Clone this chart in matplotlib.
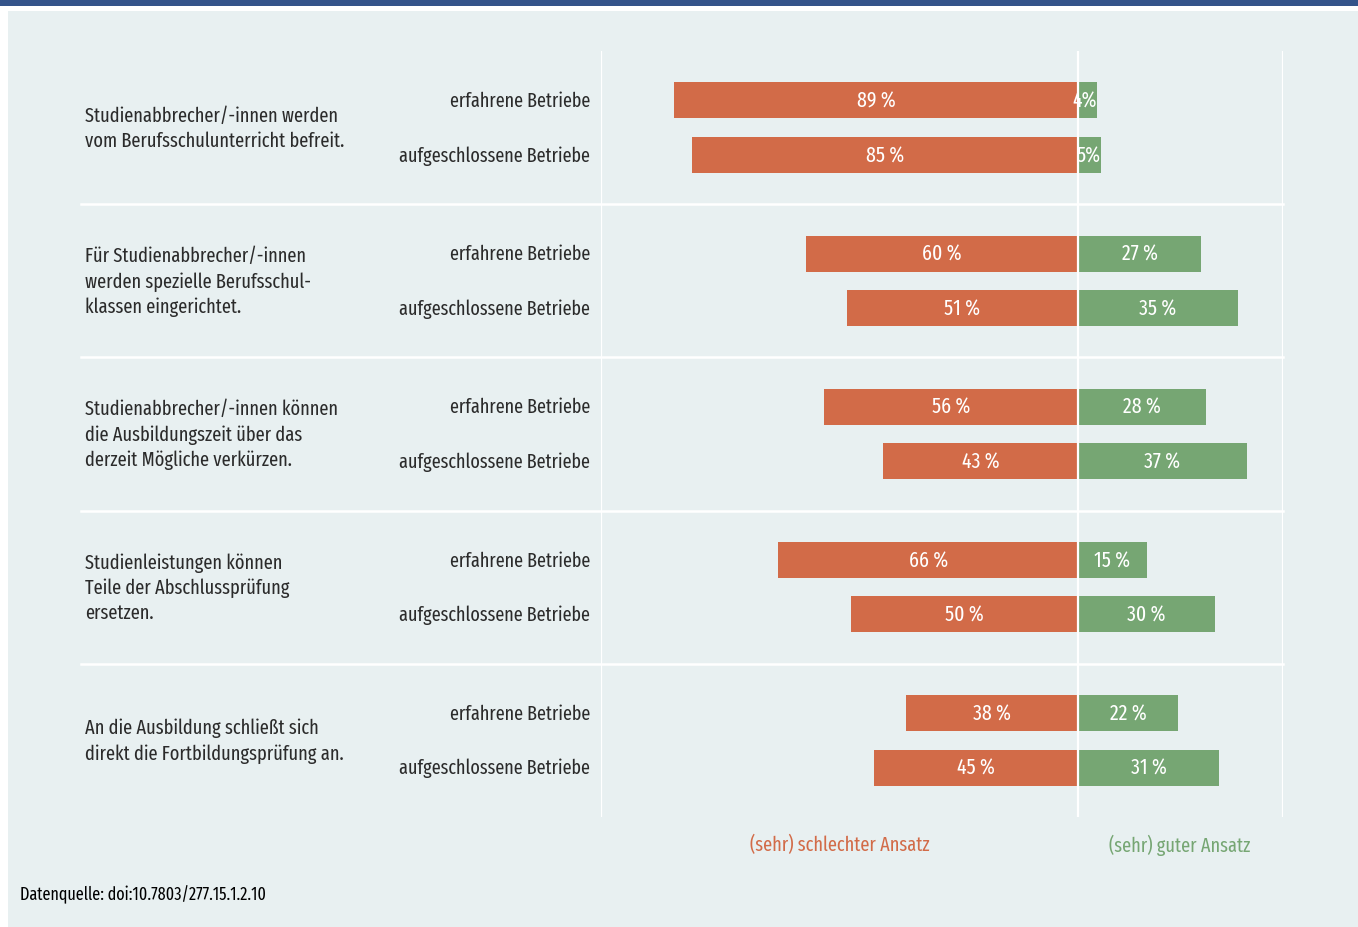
import numpy as np
import matplotlib.pyplot as plt
import matplotlib.transforms as mtransforms
from matplotlib.patches import Rectangle

# data
statements = [
    "Studienabbrecher/-innen werden\nvom Berufsschulunterricht befreit.",
    "Für Studienabbrecher/-innen\nwerden spezielle Berufsschul-\nklassen eingerichtet.",
    "Studienabbrecher/-innen können\ndie Ausbildungszeit über das\nderzeit Mögliche verkürzen.",
    "Studienleistungen können\nTeile der Abschlussprüfung\nersetzen.",
    "An die Ausbildung schließt sich\ndirekt die Fortbildungsprüfung an.",
]
groups = ["erfahrene Betriebe", "aufgeschlossene Betriebe"]
bad_erfahren = [89, 60, 56, 66, 38]
good_erfahren = [4, 27, 28, 15, 22]
bad_aufgeschl = [85, 51, 43, 50, 45]
good_aufgeschl = [5, 35, 37, 30, 31]
legend_labels = ["(sehr) schlechter Ansatz", "(sehr) guter Ansatz"]
source = "Datenquelle: doi:10.7803/277.15.1.2.10"

ORANGE = "#d26b48"
GREEN = "#76a673"
BG = "#e8f0f1"
TXT = "#2b2b2b"
FONT = ["Fira Sans Extra Condensed", "Fira Sans Condensed", "IBM Plex Sans Condensed", "DejaVu Sans"]
plt.rcParams["font.family"] = FONT
FS = 14.4

W, H = 1358, 928
fig = plt.figure(figsize=(W / 100, H / 100), dpi=100)
fig.patch.set_facecolor("white")

# background panel + top bar
fig.patches.append(Rectangle((8 / W, 0), 1 - 8 / W, 1 - 12 / H, transform=fig.transFigure,
                             facecolor=BG, edgecolor="none", zorder=-5))
fig.patches.append(Rectangle((0, 1 - 7 / H), 1, 7 / H, transform=fig.transFigure,
                             facecolor="#34548a", edgecolor="none", zorder=-5))

left, right = 601 / W, 1283 / W
top, bottom = 1 - 52 / H, 1 - 818 / H
ax = fig.add_axes([left, bottom, right - left, top - bottom])
ax.set_facecolor("none")
ax.set_xlim(-105, 45)
ax.set_ylim(5, 0)
ax.axis("off")

off = 0.178
bh = 0.235
n = len(statements)
y1 = np.arange(n) + 0.5 - off
y2 = np.arange(n) + 0.5 + off

for ys, bad, good in [(y1, bad_erfahren, good_erfahren), (y2, bad_aufgeschl, good_aufgeschl)]:
    bad = np.array(bad)
    good = np.array(good)
    ax.barh(ys, -bad, height=bh, color=ORANGE, zorder=3)
    ax.barh(ys, good, height=bh, color=GREEN, zorder=3)
    for y, b, g in zip(ys, bad, good):
        ax.text(-b / 2, y, f"{b}\u2009%", color="white", ha="center", va="center",
                fontsize=15.5, zorder=5)
        glab = f"{g}%" if g < 10 else f"{g}\u2009%"
        gx = g / 2 if g >= 10 else g
        ax.text(gx, y, glab, color="white", ha="center" if g >= 10 else "right",
                va="center", fontsize=15.5, zorder=5)

# white grid lines
for x in [-105, 0, 45]:
    ax.axvline(x, color="white", lw=1.6, zorder=4)
bt = mtransforms.blended_transform_factory(fig.transFigure, ax.transData)
for y in range(1, n):
    ax.plot([81 / W, right], [y, y], color="white", lw=1.8, transform=bt,
            clip_on=False, zorder=2)

# labels
for i, s in enumerate(statements):
    ax.text(85 / W, i + 0.5, s, transform=bt, ha="left", va="center",
            fontsize=FS, color=TXT, linespacing=1.37)
    ax.text(590 / W, y1[i], groups[0], transform=bt, ha="right", va="center",
            fontsize=14.2, color=TXT)
    ax.text(590 / W, y2[i], groups[1], transform=bt, ha="right", va="center",
            fontsize=14.2, color=TXT)

fig.text(840 / W, 1 - 845 / H, legend_labels[0], ha="center", va="center",
         fontsize=14.3, color=ORANGE)
fig.text(1180 / W, 1 - 845 / H, legend_labels[1], ha="center", va="center",
         fontsize=14.3, color=GREEN)
fig.text(20 / W, 1 - 895 / H, source, ha="left", va="center", fontsize=12.6, color="black")

fig.savefig("out.png", dpi=100, facecolor=fig.get_facecolor())
